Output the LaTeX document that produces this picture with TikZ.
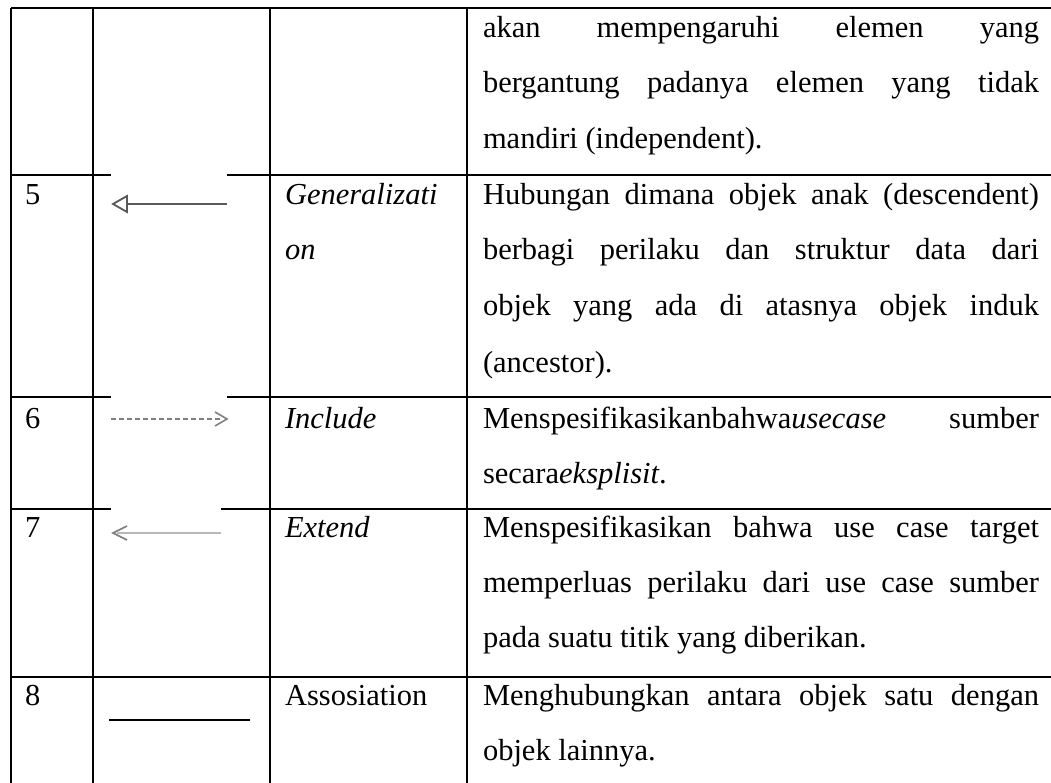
\documentclass[tikz,border=0pt]{standalone}
\usepackage{fontspec}
\setmainfont{Liberation Serif}
\newcommand{\jl}[1]{\makebox[556pt][s]{#1}}
\begin{document}
\begin{tikzpicture}[x=1pt,y=-1pt,
  txt/.style={anchor=base west,inner sep=0pt,outer sep=0pt,font=\fontsize{30.5}{30.5}\selectfont},
  gridline/.style={line width=1.4pt,black},
  symdark/.style={line width=1.8pt,color=black!65},
  symgray/.style={line width=1.6pt,color=black!50},
]
\useasboundingbox (0,0) rectangle (1051,783);
\fill[white] (0,0) rectangle (1051,783);
% grid
\draw[gridline] (11,8) -- (1051,8);
\draw[gridline] (11,175) -- (111,175) (227,175) -- (1051,175);
\draw[gridline] (11,397) -- (111,397) (227,397) -- (1051,397);
\draw[gridline] (11,509) -- (111,509) (221,509) -- (1051,509);
\draw[gridline] (11,677) -- (1051,677);
\foreach \x in {11,93,270,467} \draw[gridline] (\x,8) -- (\x,783);
% top row
\node[txt] (t1) at (483,38) {\jl{akan mempengaruhi elemen yang}};
\node[txt] (t2) at (483,93) {\jl{bergantung padanya elemen yang tidak}};
\node[txt] (t3) at (483,149) {mandiri (independent).};
% row 5
\node[txt] (n5) at (25,205) {5};
\node[txt] (g1) at (285,205) {\itshape Generalizati};
\node[txt] (g2) at (285,260) {\itshape on};
\node[txt] (h1) at (483,205) {\jl{Hubungan dimana objek anak (descendent)}};
\node[txt] (h2) at (483,260) {\jl{berbagi perilaku dan struktur data dari}};
\node[txt] (h3) at (483,316) {\jl{objek yang ada di atasnya objek induk}};
\node[txt] (h4) at (483,372) {(ancestor).};
\draw[symdark] (127,204) -- (227,204);
\draw[symdark] (113,204) -- (127,196) -- (127,212) -- cycle;
% row 6
\node[txt] (n6) at (25,428) {6};
\node[txt] (i1) at (285,428) {\itshape Include};
\node[txt] (s1) at (483,428) {\jl{Menspesifikasikanbahwa\textit{usecase} sumber}};
\node[txt] (s2) at (483,483) {secara\textit{eksplisit}.};
\draw[symgray,dash pattern=on 5pt off 3pt] (111,419) -- (222,419);
\draw[symgray] (215,412) -- (227,419) -- (215,426);
% row 7
\node[txt] (n7) at (25,537) {7};
\node[txt] (e1) at (285,537) {\itshape Extend};
\node[txt] (x1) at (483,537) {\jl{Menspesifikasikan bahwa use case target}};
\node[txt] (x2) at (483,592) {\jl{memperluas perilaku dari use case sumber}};
\node[txt] (x3) at (483,647) {pada suatu titik yang diberikan.};
\draw[line width=2.6pt,color=black!28] (117,533) -- (221,533);
\draw[symgray] (127,526) -- (113,533) -- (127,540);
% row 8
\node[txt] (n8) at (25,705) {8};
\node[txt] (a1) at (285,705) {Assosiation};
\node[txt] (m1) at (483,705) {\jl{Menghubungkan antara objek satu dengan}};
\node[txt] (m2) at (483,760) {objek lainnya.};
\draw[line width=2pt,black] (109,720) -- (250,720);
\end{tikzpicture}
\end{document}
